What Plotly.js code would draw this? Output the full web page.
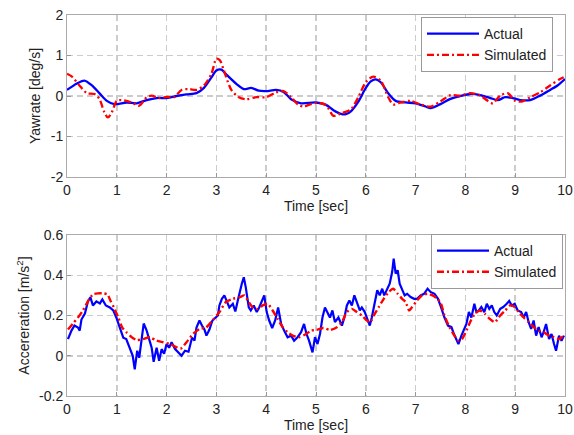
<!DOCTYPE html>
<html>
<head>
<meta charset="utf-8">
<script src="https://cdn.plot.ly/plotly-3.0.1.min.js"></script>
<style>html,body{margin:0;padding:0;background:#fff;}#chart{width:574px;height:435px;}</style>
</head>
<body>
<div id="chart"></div>
<script>
// ---- Yaw rate (top panel) ----
const yawTimeActual = [0,0.2,0.35,0.5,0.65,0.8,0.95,1.2,1.4,1.6,1.8,2.0,2.2,2.4,2.6,2.75,2.9,3.0,3.1,3.2,3.4,3.55,3.7,3.85,4.0,4.2,4.35,4.5,4.7,5.0,5.2,5.35,5.5,5.6,5.7,5.85,6.0,6.1,6.2,6.3,6.45,6.6,6.8,7.0,7.2,7.3,7.5,7.7,7.9,8.1,8.3,8.5,8.65,8.8,8.95,9.1,9.3,9.5,9.7,9.85,10];
const yawActual = [0.15,0.31,0.38,0.26,0.07,-0.12,-0.2,-0.16,-0.18,-0.1,-0.05,-0.05,0,0.04,0.07,0.2,0.46,0.63,0.65,0.53,0.3,0.17,0.2,0.13,0.12,0.15,0.1,-0.08,-0.18,-0.16,-0.22,-0.35,-0.44,-0.45,-0.38,-0.14,0.2,0.36,0.41,0.34,0.07,-0.12,-0.16,-0.18,-0.26,-0.3,-0.2,-0.07,0,0.05,0.02,-0.05,-0.1,-0.03,-0.05,-0.1,-0.1,0.01,0.15,0.26,0.42];
const yawTimeSim = [0,0.1,0.25,0.4,0.55,0.65,0.75,0.82,0.9,1.0,1.1,1.3,1.45,1.6,1.7,1.85,2.0,2.15,2.3,2.45,2.6,2.75,2.9,3.0,3.07,3.15,3.3,3.45,3.6,3.8,4.0,4.2,4.35,4.5,4.65,4.75,4.9,5.05,5.2,5.35,5.5,5.7,5.85,6.0,6.15,6.3,6.45,6.55,6.7,6.9,7.1,7.3,7.5,7.7,7.9,8.1,8.3,8.45,8.55,8.7,8.85,9.0,9.15,9.3,9.5,9.7,9.9,10];
const yawSim = [0.55,0.48,0.26,0.07,0.05,-0.07,-0.4,-0.53,-0.4,-0.12,-0.1,-0.16,-0.24,-0.03,0.01,-0.05,-0.02,-0.03,0.15,0.17,0.15,0.26,0.55,0.92,0.88,0.63,0.15,-0.03,-0.08,-0.03,-0.03,0.09,0.12,-0.03,-0.22,-0.26,-0.2,-0.17,-0.22,-0.49,-0.43,-0.33,-0.03,0.34,0.48,0.38,-0.03,-0.21,-0.16,-0.12,-0.21,-0.26,-0.13,0.02,0.01,0.07,0.01,-0.12,-0.18,0.01,0.07,-0.12,-0.13,-0.03,0.09,0.26,0.42,0.48];
const yawTickVals = [-2,-1,0,1,2];
const yawTickText = ['-2','-1','0','1','2'];

// ---- Acceleration (bottom panel) ----
const accTimeActual = [0.02,0.09,0.15,0.22,0.255,0.29,0.36,0.42,0.47,0.52,0.59,0.66,0.71,0.78,0.86,0.93,0.99,1.06,1.13,1.19,1.26,1.32,1.36,1.41,1.45,1.50,1.54,1.60,1.65,1.70,1.74,1.80,1.85,1.90,1.95,2.0,2.05,2.10,2.17,2.23,2.30,2.37,2.44,2.51,2.56,2.60,2.66,2.71,2.76,2.80,2.86,2.92,2.98,3.03,3.06,3.11,3.16,3.21,3.26,3.33,3.38,3.43,3.47,3.51,3.55,3.59,3.65,3.69,3.75,3.81,3.86,3.91,3.96,4.01,4.06,4.12,4.18,4.24,4.30,4.36,4.43,4.50,4.56,4.63,4.70,4.76,4.81,4.86,4.93,4.98,5.03,5.08,5.13,5.18,5.23,5.28,5.33,5.38,5.45,5.52,5.57,5.62,5.67,5.72,5.77,5.82,5.88,5.92,5.98,6.02,6.08,6.12,6.17,6.23,6.28,6.33,6.37,6.43,6.48,6.53,6.56,6.60,6.64,6.68,6.73,6.78,6.83,6.90,6.97,7.03,7.10,7.17,7.24,7.30,7.38,7.45,7.51,7.58,7.65,7.72,7.77,7.82,7.86,7.92,7.97,8.02,8.07,8.12,8.18,8.22,8.27,8.32,8.38,8.43,8.48,8.53,8.58,8.63,8.70,8.76,8.83,8.88,8.93,8.99,9.05,9.12,9.17,9.22,9.27,9.32,9.37,9.42,9.47,9.53,9.57,9.62,9.68,9.73,9.78,9.82,9.88,9.93,9.98];
const accActual = [0.083,0.125,0.15,0.14,0.125,0.18,0.21,0.27,0.29,0.25,0.27,0.26,0.28,0.25,0.24,0.225,0.19,0.14,0.09,0.083,0.04,0.0,-0.067,0.025,-0.01,0.075,0.16,0.125,0.075,0.04,-0.03,0.04,-0.025,0.033,0.01,0.058,0.04,0.067,0.033,0.017,0.0,0.025,0.02,0.09,0.075,0.14,0.175,0.15,0.13,0.10,0.13,0.175,0.19,0.2,0.25,0.283,0.30,0.267,0.24,0.258,0.22,0.275,0.325,0.358,0.39,0.34,0.24,0.225,0.25,0.217,0.24,0.275,0.30,0.217,0.175,0.138,0.175,0.24,0.158,0.125,0.092,0.10,0.075,0.092,0.117,0.158,0.108,0.075,0.017,0.092,0.058,0.108,0.19,0.24,0.217,0.19,0.225,0.167,0.19,0.15,0.19,0.25,0.275,0.25,0.30,0.267,0.225,0.24,0.217,0.19,0.15,0.19,0.25,0.325,0.30,0.333,0.30,0.333,0.358,0.417,0.483,0.408,0.425,0.358,0.333,0.30,0.308,0.292,0.283,0.283,0.30,0.308,0.333,0.317,0.308,0.283,0.242,0.19,0.15,0.142,0.108,0.075,0.058,0.10,0.125,0.158,0.217,0.19,0.258,0.217,0.225,0.242,0.217,0.258,0.233,0.25,0.217,0.20,0.233,0.242,0.258,0.272,0.25,0.258,0.225,0.217,0.19,0.217,0.167,0.133,0.175,0.10,0.142,0.092,0.117,0.158,0.083,0.108,0.058,0.025,0.10,0.075,0.10];
const accTimeSim = [0.02,0.12,0.22,0.32,0.42,0.52,0.62,0.72,0.81,0.87,0.94,1.03,1.11,1.19,1.30,1.40,1.53,1.66,1.80,1.93,2.07,2.20,2.28,2.40,2.53,2.66,2.79,2.92,3.06,3.19,3.33,3.46,3.56,3.63,3.73,3.83,3.93,4.03,4.13,4.23,4.33,4.43,4.53,4.66,4.80,4.90,5.01,5.15,5.28,5.42,5.52,5.62,5.72,5.82,5.92,6.02,6.09,6.16,6.26,6.36,6.46,6.55,6.64,6.73,6.80,6.87,6.93,7.03,7.13,7.24,7.34,7.44,7.51,7.58,7.68,7.78,7.86,7.93,8.02,8.11,8.19,8.29,8.39,8.49,8.59,8.70,8.80,8.90,8.99,9.07,9.17,9.27,9.37,9.47,9.57,9.68,9.78,9.88,9.98];
const accSim = [0.13,0.16,0.19,0.225,0.27,0.305,0.31,0.31,0.305,0.275,0.24,0.19,0.14,0.117,0.092,0.078,0.083,0.092,0.075,0.067,0.058,0.042,0.035,0.067,0.108,0.133,0.14,0.175,0.217,0.267,0.283,0.29,0.30,0.275,0.24,0.233,0.25,0.258,0.225,0.183,0.142,0.117,0.10,0.092,0.108,0.125,0.128,0.138,0.128,0.142,0.167,0.217,0.233,0.217,0.2,0.175,0.167,0.2,0.242,0.283,0.317,0.333,0.308,0.283,0.267,0.225,0.242,0.275,0.30,0.308,0.30,0.283,0.258,0.20,0.142,0.10,0.075,0.083,0.125,0.175,0.208,0.225,0.208,0.183,0.167,0.20,0.225,0.25,0.242,0.217,0.19,0.167,0.142,0.125,0.117,0.10,0.092,0.083,0.10];
const accTickVals = [-0.2,0,0.2,0.4,0.6];
const accTickText = ['-0.2','0','0.2','0.4','0.6'];

const seriesNames = ['Actual', 'Simulated'];
const xTickVals = [0,1,2,3,4,5,6,7,8,9,10];

const W = 574, H = 435;
const FONT = 'Liberation Sans, Arial, sans-serif';
const blue = '#0000ff', red = '#ff0000';
const simDash = '7px,3px,2px,3px';

const traces = [
  {x: yawTimeActual, y: yawActual, name: seriesNames[0], xaxis: 'x', yaxis: 'y', mode: 'lines',
   line: {color: blue, width: 2.3, shape: 'spline', smoothing: 0.8}, legend: 'legend'},
  {x: yawTimeSim, y: yawSim, name: seriesNames[1], xaxis: 'x', yaxis: 'y', mode: 'lines',
   line: {color: red, width: 2.3, dash: simDash, shape: 'spline', smoothing: 0.8}, legend: 'legend'},
  {x: accTimeActual, y: accActual, name: seriesNames[0], xaxis: 'x2', yaxis: 'y2', mode: 'lines',
   line: {color: blue, width: 2.2}, legend: 'legend2'},
  {x: accTimeSim, y: accSim, name: seriesNames[1], xaxis: 'x2', yaxis: 'y2', mode: 'lines',
   line: {color: red, width: 2.4, dash: simDash, shape: 'spline', smoothing: 0.6}, legend: 'legend2'}
];

function xAxis(anchor) {
  return {
    domain: [67/W, 565/W], range: [0, 10], anchor: anchor,
    tickvals: xTickVals, ticks: 'inside', ticklen: 4, tickcolor: '#999',
    showgrid: true, gridcolor: '#cccccc', griddash: '6px,4px', gridwidth: 1.5,
    showline: true, linecolor: '#aaa', linewidth: 1, mirror: true, zeroline: false,
    tickfont: {family: FONT, size: 14, color: '#222'},
    title: {text: 'Time [sec]', font: {family: FONT, size: 14, color: '#222'}, standoff: 3}
  };
}
function yAxis(domain, range, vals, text, title, anchor) {
  return {
    domain: domain, range: range, tickvals: vals, ticktext: text, anchor: anchor,
    ticks: 'inside', ticklen: 4, tickcolor: '#999',
    showgrid: true, gridcolor: '#cccccc', griddash: '6px,4px', gridwidth: 1.5,
    showline: true, linecolor: '#aaa', linewidth: 1, mirror: true, zeroline: false,
    tickfont: {family: FONT, size: 14, color: '#222'},
    title: {text: title, font: {family: FONT, size: 14, color: '#222'}, standoff: 6}
  };
}

const legendCommon = {
  xanchor: 'right', yanchor: 'top',
  bgcolor: '#fff', bordercolor: '#999', borderwidth: 1, itemwidth: 52,
  font: {family: FONT, size: 14, color: '#222'}, tracegroupgap: 0
};

const layout = {
  width: W, height: H,
  margin: {l: 0, r: 0, t: 0, b: 0},
  paper_bgcolor: '#fff', plot_bgcolor: '#fff',
  font: {family: FONT, color: '#222'},
  xaxis: xAxis('y'),
  yaxis: yAxis([258/H, 420/H], [-2, 2], yawTickVals, yawTickText, 'Yawrate [deg/s]', 'x'),
  xaxis2: xAxis('y2'),
  yaxis2: yAxis([39/H, 200/H], [-0.2, 0.6], accTickVals, accTickText, 'Accereration [m/s<sup>2</sup>]', 'x2'),
  legend: Object.assign({x: 553/W, y: (H-17)/H}, legendCommon),
  legend2: Object.assign({x: 563/W, y: (H-234)/H}, legendCommon),
  showlegend: true
};

Plotly.newPlot('chart', traces, layout, {staticPlot: true, displayModeBar: false});
</script>
</body>
</html>
